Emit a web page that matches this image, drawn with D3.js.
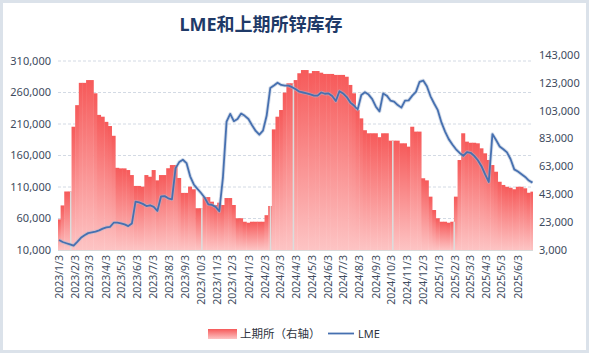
<!DOCTYPE html>
<html>
<head>
<meta charset="utf-8">
<title>LME和上期所锌库存</title>
<script src="https://cdn.jsdelivr.net/npm/d3@7"></script>
<style>
  body { margin: 0; background: #fff; }
  svg { font-family: "Noto Sans", "Noto Sans CJK SC", sans-serif; }
</style>
</head>
<body>
<svg id="chart" width="589" height="353"></svg>
<script>
// weekly SHFE zinc stock (thousand t), weeks starting each Friday from 2022/12/30
var shfeStart = new Date(2022, 11, 30);
var shfe = [25,35,45,45,91.5,107,123,123,125,125,
  115.5,100,98.7,95,92,85,62,61.6,61.6,60.4,
  56.8,49,49,48.5,56.8,55.6,60.4,53,56.8,56.8,
  61.7,64,64,54.7,44,44,48.5,46.6,33,33,
  41,41,37.7,35.3,37,35.3,40.3,40.3,35.3,25.8,
  25.8,23.3,22.6,23.3,23.3,23.3,23.3,28,34.6,89.6,
  98.7,103.5,116,122.7,122.7,125,129.9,132.2,132.2,129.9,
  131.5,131.5,130.3,129.4,129.4,129.4,128.7,128.7,128.7,127.4,
  121.5,115.5,103.5,97.5,89,86.8,86.8,86.8,84,86.8,
  86.8,81.5,81.5,81.5,79.6,79.6,77.2,91.5,88,88,
  54.5,53,41.3,31.7,25.8,23.3,23.3,22.6,23.3,41.3,
  67.6,86.8,80.8,80,80,79.6,76,72.4,67.6,64,
  59.2,52,49.7,48.4,47.7,46.6,48.4,48.4,47.3,44.1,
  44.9];

// weekly LME zinc stock (thousand t), every Tuesday from 2023/1/3
var lmeStart = new Date(2023, 0, 3);
var lme = [26,22.7,20.7,18.8,17,23,29.4,33.3,36.8,38,
  39.2,41.2,44,46,46.7,53.3,53.3,52.3,50.6,48,
  52,86.7,85.5,83.2,79.8,81,78.5,72,95,95.5,
  92,90.5,140,149.5,153.2,148,127,114,107,100.5,
  93,82.5,81.5,78.5,71.5,125,213.6,226,214.5,218,
  226.5,223,218,208,199,193,199.5,223,267,271,
  275.5,272,271,271,268.5,265,261.3,260,258.7,257,
  255,255,260,258,258.5,254.5,246.5,262,258.5,252.7,
  244,239.3,233,256,260.5,256.7,249.5,237.5,230,258.5,
  255,247.2,245.5,240,236,247,247.5,255,261,277,
  279,270,254,242.5,232,212.5,198,186,177.5,169.8,
  164,159.5,165.5,164.3,159.3,152.5,143,130,118,194,
  184.5,174.3,170,165,154,138,134.5,130.3,126,120.2,
  117];

// days without SHFE data (holidays)
var gapDays = ["2023/1/24", "2023/10/3", "2024/2/12", "2024/3/27", "2024/10/4", "2025/1/30"];

var xLabels = ["2023/1/3","2023/2/3","2023/3/3","2023/4/3","2023/5/3","2023/6/3",
  "2023/7/3","2023/8/3","2023/9/3","2023/10/3","2023/11/3","2023/12/3",
  "2024/1/3","2024/2/3","2024/3/3","2024/4/3","2024/5/3","2024/6/3",
  "2024/7/3","2024/8/3","2024/9/3","2024/10/3","2024/11/3","2024/12/3",
  "2025/1/3","2025/2/3","2025/3/3","2025/4/3","2025/5/3","2025/6/3"];
var leftTicks = [10000, 60000, 110000, 160000, 210000, 260000, 310000];
var rightTicks = [3000, 23000, 43000, 63000, 83000, 103000, 123000, 143000];

var parse = d3.timeParse("%Y/%m/%d");
var fmt = d3.format(",");

var svg = d3.select("#chart");
var plotL = 58, plotR = 533, plotT = 61, plotB = 250;

var x = d3.scaleTime()
    .domain([new Date(2023, 0, 1), new Date(2025, 6, 2)])
    .range([plotL, plotR]);
var yL = d3.scaleLinear().domain([10000, 310000]).range([plotB, plotT]);
var yR = d3.scaleLinear().domain([3000, 143000]).range([plotB, 55]);

// chart frame
svg.append("rect")
    .attr("x", 1.5).attr("y", 1.5).attr("width", 586).attr("height", 350)
    .attr("fill", "#fff").attr("stroke", "#dbe2ea").attr("stroke-width", 3);

var defs = svg.append("defs");
var grad = defs.append("linearGradient")
    .attr("id", "barfill").attr("x1", 0).attr("y1", 0).attr("x2", 0).attr("y2", 1);
grad.append("stop").attr("offset", "0%").attr("stop-color", "#f65a5a");
grad.append("stop").attr("offset", "100%").attr("stop-color", "#fdc4c4");

defs.append("clipPath").attr("id", "plot")
  .append("rect").attr("x", plotL).attr("y", 0)
    .attr("width", plotR - plotL).attr("height", plotB);

// gridlines (left axis)
svg.append("g").selectAll("line").data(leftTicks.slice(1)).join("line")
    .attr("x1", plotL).attr("x2", plotR)
    .attr("y1", function(d) { return yL(d); })
    .attr("y2", function(d) { return yL(d); })
    .attr("stroke", "#d3dae4").attr("stroke-dasharray", "3,2");

// SHFE columns
var weeks = shfe.map(function(v, i) { return d3.timeDay.offset(shfeStart, 7 * i); });
var bars = svg.append("g").attr("clip-path", "url(#plot)");
bars.selectAll("rect").data(shfe).join("rect")
    .attr("x", function(d, i) { return x(weeks[i]); })
    .attr("width", function(d, i) { return x(d3.timeDay.offset(weeks[i], 7)) - x(weeks[i]) + 0.4; })
    .attr("y", function(d) { return yR(d * 1000); })
    .attr("height", function(d) { return plotB - yR(d * 1000); })
    .attr("fill", "url(#barfill)");

function weekValue(day) {
  var i = d3.bisectRight(weeks, parse(day)) - 1;
  return shfe[i] * 1000;
}
bars.selectAll("rect.gap").data(gapDays).join("rect")
    .attr("class", "gap")
    .attr("x", function(d) { return x(parse(d)); })
    .attr("width", function(d) { return x(d3.timeDay.offset(parse(d), 3)) - x(parse(d)); })
    .attr("y", function(d) { return yR(weekValue(d)); })
    .attr("height", function(d) { return plotB - yR(weekValue(d)); })
    .attr("fill", "#dcdcdc");

// x axis line
svg.append("line")
    .attr("x1", plotL).attr("x2", plotR).attr("y1", plotB + 0.5).attr("y2", plotB + 0.5)
    .attr("stroke", "#d9d9d9");

// LME line
var lmeDates = lme.map(function(v, i) { return d3.timeDay.offset(lmeStart, 7 * i); });
var line = d3.line()
    .x(function(d, i) { return x(lmeDates[i]); })
    .y(function(d) { return yL(d * 1000); });
svg.append("path").datum(lme)
    .attr("d", line)
    .attr("fill", "none")
    .attr("stroke", "#a9bad4").attr("stroke-opacity", 0.5)
    .attr("stroke-width", 3.6).attr("stroke-linejoin", "round");
svg.append("path").datum(lme)
    .attr("d", line)
    .attr("fill", "none")
    .attr("stroke", "#4670b0")
    .attr("stroke-width", 1.8).attr("stroke-linejoin", "round");

// axes labels
var axisColor = "#3e4b5e";
svg.append("g").selectAll("text").data(leftTicks).join("text")
    .attr("x", 51).attr("y", function(d) { return yL(d); })
    .attr("dy", "0.35em").attr("text-anchor", "end")
    .attr("font-size", 11).attr("fill", axisColor)
    .text(fmt);

svg.append("g").selectAll("text").data(rightTicks).join("text")
    .attr("x", 539).attr("y", function(d) { return yR(d); })
    .attr("dy", "0.35em").attr("text-anchor", "start")
    .attr("font-size", 11).attr("fill", axisColor)
    .text(fmt);

svg.append("g").selectAll("text").data(xLabels).join("text")
    .attr("transform", function(d) { return "translate(" + x(parse(d)) + "," + 255 + ") rotate(-90)"; })
    .attr("dy", "0.35em").attr("text-anchor", "end")
    .attr("font-size", 10.5).attr("fill", axisColor)
    .text(function(d) { return d; });

// title
svg.append("text")
    .attr("x", 261).attr("y", 31).attr("text-anchor", "middle")
    .attr("font-size", 18).attr("font-weight", "bold").attr("fill", "#1f3a68")
    .text("LME和上期所锌库存");

// legend
var lg = svg.append("g");
lg.append("rect").attr("x", 208).attr("y", 329).attr("width", 29).attr("height", 10)
    .attr("fill", "url(#barfill)");
lg.append("text").attr("x", 240).attr("y", 334).attr("dy", "0.35em")
    .attr("font-size", 11.5).attr("fill", "#2e3440").text("上期所（右轴）");
lg.append("line").attr("x1", 328).attr("x2", 354).attr("y1", 333.5).attr("y2", 333.5)
    .attr("stroke", "#4670b0").attr("stroke-width", 1.8);
lg.append("text").attr("x", 358).attr("y", 334).attr("dy", "0.35em")
    .attr("font-size", 11).attr("fill", "#2e3440").text("LME");
</script>
</body>
</html>
